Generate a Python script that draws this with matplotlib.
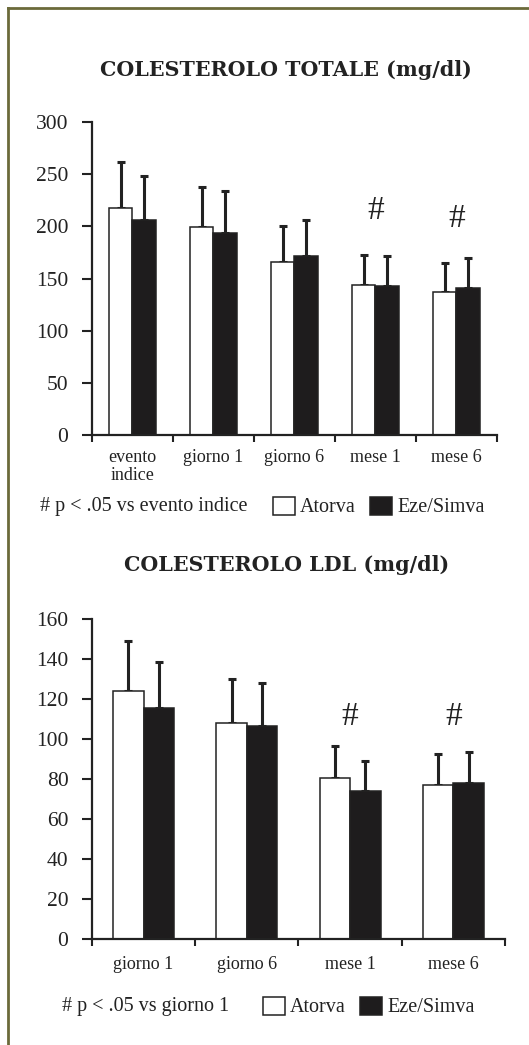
import numpy as np
import matplotlib
matplotlib.use("Agg")
import matplotlib.pyplot as plt
from matplotlib.patches import Patch
from matplotlib.lines import Line2D

plt.rcParams["font.family"] = ["Liberation Serif", "DejaVu Serif"]

# ---------------------------------------------------------------------------
# Data
# ---------------------------------------------------------------------------
TOT_LABELS = ["evento\nindice", "giorno 1", "giorno 6", "mese 1", "mese 6"]
TOT_ATORVA = [218, 199, 166, 144, 137]
TOT_ATORVA_SD = [44, 39, 34, 29, 28]
TOT_EZE = [206, 194, 172, 143, 141]
TOT_EZE_SD = [42, 40, 34, 29, 29]
TOT_HASH = [None, None, None, 215, 207]

LDL_LABELS = ["giorno 1", "giorno 6", "mese 1", "mese 6"]
LDL_ATORVA = [124, 108, 80.5, 77]
LDL_ATORVA_SD = [25, 22, 16, 15.5]
LDL_EZE = [115.5, 106.5, 74, 78]
LDL_EZE_SD = [23, 21.5, 15, 15.5]
LDL_HASH = [None, None, 111, 111]

INK = "#222222"
BLACK_BAR = "#1e1c1d"
FRAME = "#6b6a3a"
WIDTH = 0.295


def draw_panel(ax, labels, atorva, atorva_sd, eze, eze_sd, hashes, ymax, ystep, pad):
    x = np.arange(len(labels))
    err_kw = dict(ecolor=INK, elinewidth=2.2, capsize=3, capthick=2.2)
    ax.bar(x - WIDTH / 2, atorva, WIDTH, color="white", edgecolor=INK,
           linewidth=1.1, zorder=2)
    ax.errorbar(x - WIDTH / 2, atorva, yerr=[np.zeros(len(x)), atorva_sd],
                fmt="none", zorder=1, **err_kw)
    ax.bar(x + WIDTH / 2, eze, WIDTH, color=BLACK_BAR, edgecolor=INK,
           linewidth=1.1, zorder=2)
    ax.errorbar(x + WIDTH / 2, eze, yerr=[np.zeros(len(x)), eze_sd],
                fmt="none", zorder=1, **err_kw)

    for xi, h in zip(x, hashes):
        if h is not None:
            ax.text(xi, h, "#", ha="center", va="center", fontsize=24,
                    color=INK)

    ax.set_xlim(-0.5, len(labels) - 0.5)
    ax.set_ylim(0, ymax)
    ax.set_yticks(np.arange(0, ymax + 1, ystep))
    ax.set_xticks(x)
    ax.set_xticklabels(labels, fontsize=13, color=INK, linespacing=1.05)
    ax.set_xticks(np.arange(-0.5, len(labels)), minor=True)
    ax.tick_params(axis="x", which="major", length=0, pad=pad)
    ax.tick_params(axis="x", which="minor", length=5, width=1.5,
                   direction="out", color=INK)
    ax.tick_params(axis="y", length=7, width=1.5, pad=10, labelsize=15.5,
                   colors=INK)
    for s in ["top", "right"]:
        ax.spines[s].set_visible(False)
    for s in ["left", "bottom"]:
        ax.spines[s].set_linewidth(1.6)
        ax.spines[s].set_color(INK)


def add_legend(fig, note, note_x, leg_x, y):
    fig.text(note_x, y, note, ha="left", va="center", fontsize=14.5, color=INK)
    handles = [Patch(facecolor="white", edgecolor=INK, linewidth=1.1),
               Patch(facecolor=BLACK_BAR, edgecolor=INK, linewidth=1.1)]
    leg = fig.legend(handles, ["Atorva", "Eze/Simva"], loc="center left",
                     bbox_to_anchor=(leg_x, y), ncol=2, frameon=False,
                     fontsize=14.5, handlelength=1.1, handleheight=1.0,
                     handletextpad=0.25, columnspacing=0.7, borderpad=0,
                     borderaxespad=0)
    for t in leg.get_texts():
        t.set_color(INK)


fig = plt.figure(figsize=(5.29, 10.45), dpi=100)

ax1 = fig.add_axes([0.1739, 0.5837, 0.7656, 0.2995])
draw_panel(ax1, TOT_LABELS, TOT_ATORVA, TOT_ATORVA_SD, TOT_EZE, TOT_EZE_SD,
           TOT_HASH, 300, 50, pad=10)
fig.text(0.541, 0.933, "COLESTEROLO TOTALE (mg/dl)", ha="center",
         va="center", fontsize=14.9, fontweight="bold", color=INK,
         family="DejaVu Serif")
add_legend(fig, "# p < .05 vs evento indice", 40 / 529, 273 / 529,
           1 - 507 / 1045)

ax2 = fig.add_axes([0.1739, 0.1014, 0.7807, 0.3062])
draw_panel(ax2, LDL_LABELS, LDL_ATORVA, LDL_ATORVA_SD, LDL_EZE, LDL_EZE_SD,
           LDL_HASH, 160, 20, pad=12)
fig.text(0.541, 1 - 565 / 1045, "COLESTEROLO LDL (mg/dl)", ha="center",
         va="center", fontsize=14.9, fontweight="bold", color=INK,
         family="DejaVu Serif")
add_legend(fig, "# p < .05 vs giorno 1", 62 / 529, 263 / 529,
           1 - 1007 / 1045)

# olive frame: top and left edges only
fig.add_artist(Line2D([8 / 529, 1.0], [1 - 8 / 1045, 1 - 8 / 1045],
                      transform=fig.transFigure, color=FRAME, linewidth=2))
fig.add_artist(Line2D([8 / 529, 8 / 529], [0.0, 1 - 8 / 1045],
                      transform=fig.transFigure, color=FRAME, linewidth=2))

fig.savefig("out.png", dpi=100)
